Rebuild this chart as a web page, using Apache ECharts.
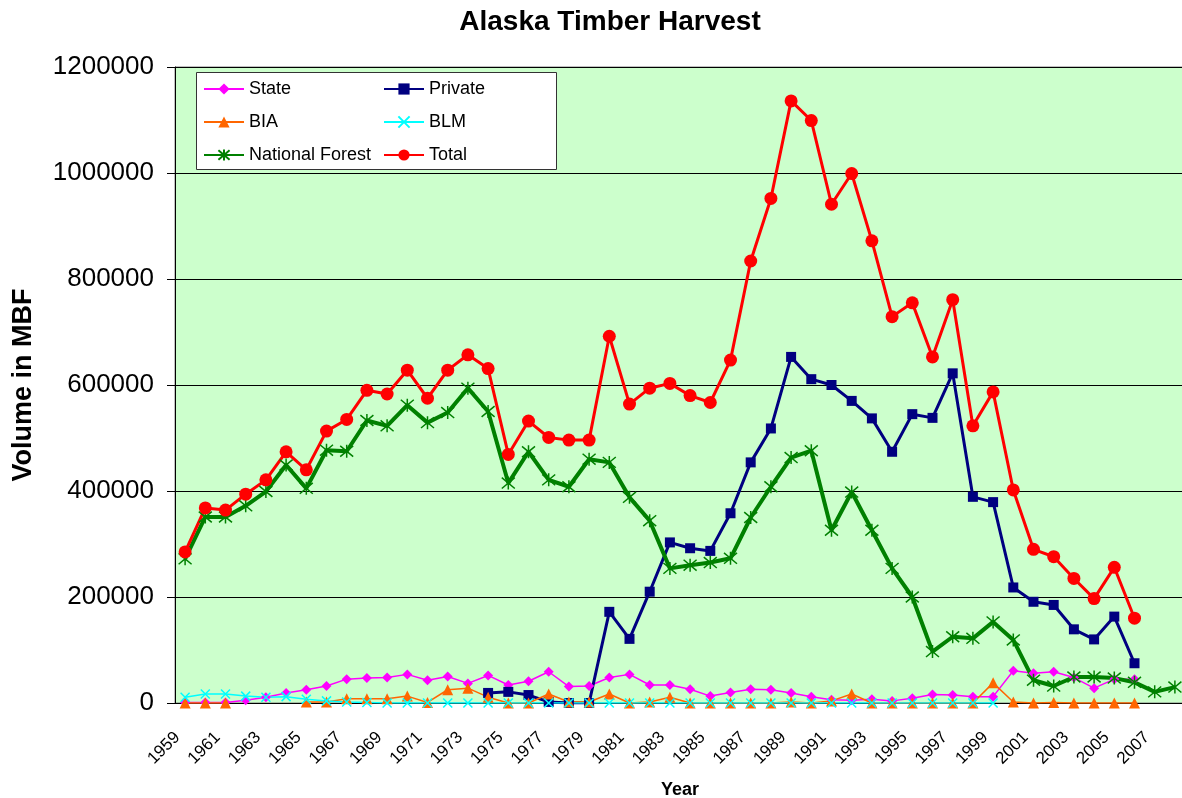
<!DOCTYPE html>
<html>
<head>
<meta charset="utf-8">
<script src="https://cdn.jsdelivr.net/npm/echarts@6/dist/echarts.min.js"></script>
<style>
  html, body { margin: 0; padding: 0; background: #fff; }
  #chart { width: 1182px; height: 798px; }
</style>
</head>
<body>
<div id="chart"></div>
<script>
// years on the x axis
var years = ['1959','1960','1961','1962','1963','1964','1965','1966','1967','1968',
  '1969','1970','1971','1972','1973','1974','1975','1976','1977','1978',
  '1979','1980','1981','1982','1983','1984','1985','1986','1987','1988',
  '1989','1990','1991','1992','1993','1994','1995','1996','1997','1998',
  '1999','2000','2001','2002','2003','2004','2005','2006','2007','2008'];

// volume in MBF
var state = [1000,1000,1000,5000,11000,19000,25000,32000,45000,47000,
  48000,54000,43000,50000,37000,52000,34000,41000,59000,31000,
  32000,48000,54000,34000,34000,26000,13000,20000,26000,25000,
  19000,12000,6000,5000,7000,4000,9000,16000,15000,12000,
  12000,61000,56000,59000,48000,28000,45000,45000,null,null];

var privateLand = [null,null,null,null,null,null,null,null,null,null,
  null,null,null,null,null,19000,21000,15000,2000,0,
  0,172000,121000,210000,303000,292000,287000,358000,454000,518000,
  653000,611000,600000,570000,537000,474000,545000,538000,622000,389000,
  379000,218000,191000,185000,139000,120000,163000,75000,null,null];

var bia = [0,0,0,null,null,null,2000,2000,8000,8000,
  8000,13000,1000,25000,28000,11000,0,0,17000,2000,
  2000,17000,0,2000,11000,0,0,0,0,0,
  2000,0,4000,17000,0,0,0,0,0,0,
  38000,2000,0,1000,0,0,0,0,null,null];

var blm = [11000,17000,17000,13000,11000,12000,7000,4000,2000,1000,
  0,0,0,0,0,0,0,0,0,0,
  0,0,0,0,0,0,0,0,0,0,
  0,0,0,0,0,0,0,0,0,0,
  0,null,null,null,null,null,null,null,null,null];

var nationalForest = [272000,351000,351000,372000,399000,449000,405000,477000,475000,533000,
  523000,562000,529000,548000,594000,550000,415000,474000,421000,408000,
  460000,454000,388000,344000,254000,260000,265000,273000,350000,408000,
  463000,476000,326000,398000,326000,254000,200000,97000,125000,122000,
  153000,119000,43000,32000,49000,49000,47000,39000,21000,30000];

var total = [285000,368000,364000,394000,421000,474000,440000,513000,535000,590000,
  583000,628000,575000,628000,657000,631000,469000,532000,501000,496000,
  496000,692000,564000,594000,603000,580000,567000,647000,834000,952000,
  1136000,1099000,941000,999000,872000,729000,755000,653000,761000,523000,
  587000,402000,290000,276000,235000,197000,256000,160000,null,null];

var font = "'Liberation Sans', Arial, sans-serif";
var xMark = 'path://M0,0 L10,10 M10,0 L0,10';
var starMark = 'path://M0,0 L10,10 M10,0 L0,10 M5,-1 L5,11';

var myChart = echarts.init(document.getElementById('chart'));

function lineSeries(name, data, color, width, symbol, size, stroke) {
  return {
    name: name,
    type: 'line',
    data: data,
    symbol: symbol,
    symbolSize: size,
    showAllSymbol: true,
    lineStyle: { color: color, width: width },
    itemStyle: stroke
      ? { color: 'none', borderColor: color, borderWidth: stroke }
      : { color: color, borderWidth: 0 },
    emphasis: { disabled: true }
  };
}

var legendBase = {
  orient: 'vertical',
  top: 80,
  padding: 0,
  z: 6,
  itemWidth: 40,
  itemHeight: 14,
  itemGap: 15,
  textStyle: { fontFamily: font, fontSize: 18, color: '#000' }
};

var option = {
  animation: false,
  backgroundColor: '#ffffff',
  textStyle: { fontFamily: font },
  title: {
    text: 'Alaska Timber Harvest',
    left: 605,
    textAlign: 'center',
    top: 3,
    textStyle: { fontFamily: font, fontSize: 28, fontWeight: 'bold', color: '#000' }
  },
  graphic: [{
    type: 'rect',
    z: 5,
    shape: { x: 196.5, y: 72.5, width: 360, height: 97 },
    style: { fill: '#ffffff', stroke: '#333333', lineWidth: 1 }
  }],
  legend: [
    Object.assign({}, legendBase, { left: 203, data: ['State', 'BIA', 'National Forest'] }),
    Object.assign({}, legendBase, { left: 383, data: ['Private', 'BLM', 'Total'] })
  ],
  grid: {
    left: 175,
    top: 67,
    width: 1010,
    height: 636,
    outerBoundsMode: 'none',
    show: true,
    backgroundColor: '#CCFFCC',
    borderColor: '#808080',
    borderWidth: 1
  },
  xAxis: {
    type: 'category',
    data: years,
    boundaryGap: true,
    name: 'Year',
    nameLocation: 'middle',
    nameGap: 78,
    nameTextStyle: { fontFamily: font, fontSize: 18, fontWeight: 'bold', color: '#000' },
    axisLine: { lineStyle: { color: '#000', width: 1 } },
    axisTick: { interval: 0, length: 6, lineStyle: { color: '#000' } },
    axisLabel: {
      interval: 1,
      rotate: 45,
      margin: 24,
      padding: [0, 11, 0, 0],
      fontFamily: font,
      fontSize: 17,
      color: '#000'
    },
    splitLine: { show: false }
  },
  yAxis: {
    type: 'value',
    min: 0,
    max: 1200000,
    interval: 200000,
    name: 'Volume in MBF',
    nameLocation: 'middle',
    nameRotate: 90,
    nameGap: 138,
    nameTextStyle: { fontFamily: font, fontSize: 27, fontWeight: 'bold', color: '#000' },
    axisLine: { show: true, lineStyle: { color: '#000', width: 1 } },
    axisTick: { show: true, length: 8, lineStyle: { color: '#000' } },
    axisLabel: {
      margin: 21,
      fontFamily: font,
      fontSize: 26,
      color: '#000',
      formatter: function (v) { return String(v); }
    },
    splitLine: { lineStyle: { color: '#000', width: 1 } }
  },
  series: [
    lineSeries('State', state, '#FF00FF', 1.5, 'diamond', 10),
    lineSeries('Private', privateLand, '#000080', 3, 'rect', 10),
    lineSeries('BIA', bia, '#FF6600', 1.5, 'triangle', 11),
    lineSeries('BLM', blm, '#00FFFF', 1.5, xMark, 9, 1.5),
    lineSeries('National Forest', nationalForest, '#008000', 4, starMark, 13, 1.5),
    lineSeries('Total', total, '#FF0000', 3, 'circle', 13)
  ]
};

myChart.setOption(option);
</script>
</body>
</html>
